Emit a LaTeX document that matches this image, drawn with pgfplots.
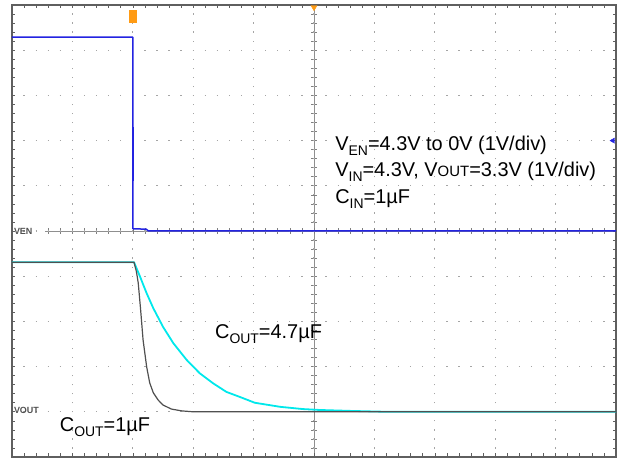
\documentclass[border=0pt]{standalone}
\usepackage{pgfplots}
\pgfplotsset{compat=1.18}
\usepackage{fontspec}
\setmainfont{Liberation Sans}
\definecolor{trblue}{RGB}{35,35,225}
\definecolor{trcyan}{RGB}{0,232,235}
\definecolor{trgray}{RGB}{80,80,80}
\definecolor{framegray}{RGB}{95,95,95}
\definecolor{dotgray}{RGB}{165,165,165}
\definecolor{mkorange}{RGB}{255,155,20}
\newcommand\sub[1]{\raisebox{-5bp}{\fontsize{14}{14}\selectfont #1}}
\newcommand\sm[1]{{\fontsize{15}{15}\selectfont #1}}
\begin{document}
\begin{tikzpicture}
\useasboundingbox (-12bp,-1bp) rectangle (611bp,457bp);
% centre cross lines of the scope graticule
\begin{scope}[x=60.4bp,y=45.2bp]
\draw[framegray!70, line width=0.6bp] (5,0) -- (5,10) (0.55,5) -- (10,5);
\foreach \i in {3,...,49}{
  \draw[framegray!80, line width=0.6bp] (\i/5,5) +(0,-3bp) -- +(0,3bp);
}
\foreach \i in {1,...,49}{
  \draw[framegray!80, line width=0.6bp] (5,\i/5) +(-3bp,0) -- +(3bp,0);
}
\end{scope}
\begin{axis}[at={(0,0)}, anchor=south west, scale only axis,
  width=604bp, height=452bp,
  xmin=0, xmax=10, ymin=0, ymax=10,
  xtick={0,...,10}, ytick={0,...,10},
  xticklabels={}, yticklabels={},
  minor x tick num=4, minor y tick num=4,
  tick align=inside, tick pos=both,
  major tick length=3.5bp, minor tick length=3.5bp,
  every tick/.style={framegray, line width=0.6bp},
  axis line style={framegray, line width=1.1bp},
  grid=major,
  x grid style={dotgray, line width=1.3bp, dash pattern=on 1.3bp off 7.74bp, dash phase=0.65bp},
  y grid style={dotgray, line width=1.3bp, dash pattern=on 1.3bp off 10.78bp, dash phase=0.65bp},
  clip=false]
% V_EN
\addplot[trblue, line width=1.5bp, line join=round] coordinates {
 (0,9.29) (2.0,9.29) (2.0,5.05) (2.22,5.04) (2.26,5.0) (10,5.0)};
\addplot[trblue, line width=2.2bp] coordinates {(2.0,7.3) (2.0,6.1)};
% V_OUT, C_OUT = 4.7 uF
\addplot[trcyan, line width=1.8bp, line join=round] coordinates {
 (0,4.31) (2.02,4.31) (2.12,3.99) (2.23,3.62) (2.34,3.29) (2.50,2.88)
 (2.67,2.52) (2.89,2.15) (3.11,1.85) (3.33,1.63) (3.55,1.44) (3.77,1.33)
 (4.02,1.20) (4.44,1.11) (4.82,1.06) (5.10,1.04) (5.6,1.02) (6.2,1.0) (10,1.0)};
% V_OUT, C_OUT = 1 uF
\addplot[trgray, line width=1.2bp, line join=round] coordinates {
 (0,4.31) (2.02,4.31) (2.06,4.10) (2.09,3.85) (2.13,3.25) (2.17,2.59)
 (2.23,1.99) (2.28,1.64) (2.34,1.42) (2.42,1.26) (2.50,1.15) (2.64,1.06)
 (2.81,1.02) (3.0,1.0) (10,1.0)};
% scope markers
\addplot[only marks, mark=square*, mark size=3.2bp, mkorange, mark options={rounded corners=1.5bp, yscale=1.8}] coordinates {(2.0,9.75)};
\addplot[only marks, mark=triangle*, mark size=3.5bp, mkorange, mark options={rotate=180}] coordinates {(5,9.95)};
\addplot[only marks, mark=triangle*, mark size=3bp, trblue, mark options={rotate=90}] coordinates {(9.95,7.0)};
% texts
\node[anchor=west, inner sep=0, font=\bfseries\fontsize{9}{9}\selectfont, text=trgray] at (axis cs:0.03,5.0) {VEN};
\node[anchor=west, inner sep=0, font=\bfseries\fontsize{9}{9}\selectfont, text=trgray] at (axis cs:0.03,1.03) {VOUT};
\node[anchor=west, inner sep=0, align=left, font=\fontsize{20}{27}\selectfont] at (axis cs:5.35,6.3)
 {V\sub{EN}=4.3V to 0V (1V/div)\\ V\sub{IN}=4.3V, V\sm{OUT}=3.3V (1V/div)\\ C\sub{IN}=1µF};
\node[anchor=west, inner sep=0, font=\fontsize{20}{24}\selectfont] at (axis cs:3.36,2.72) {C\sub{OUT}=4.7µF};
\node[anchor=west, inner sep=0, font=\fontsize{20}{24}\selectfont] at (axis cs:0.79,0.66) {C\sub{OUT}=1µF};
\end{axis}
\end{tikzpicture}
\end{document}
